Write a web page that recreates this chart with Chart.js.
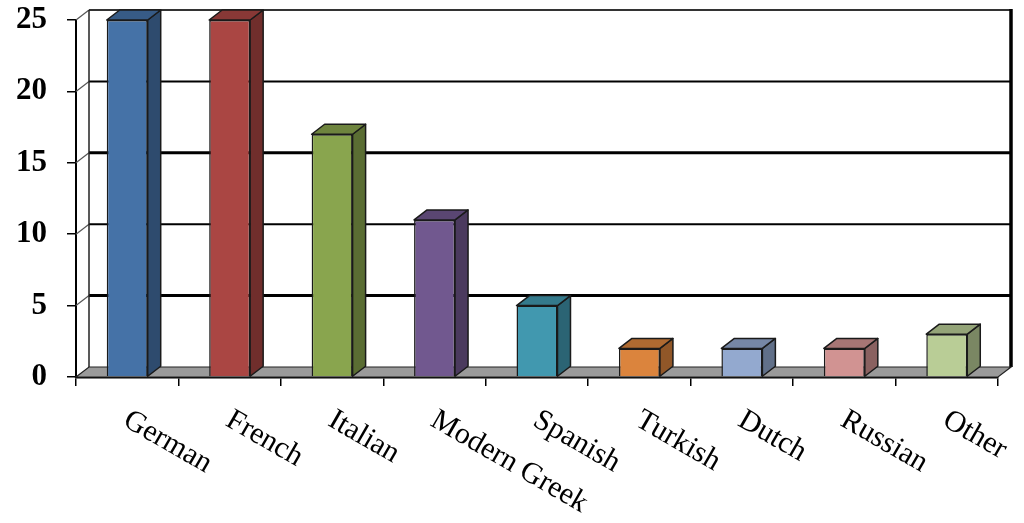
<!DOCTYPE html>
<html>
<head>
<meta charset="utf-8">
<script src="https://cdn.jsdelivr.net/npm/chart.js@4/dist/chart.umd.min.js"></script>
<style>
  html, body { margin: 0; padding: 0; background: #fff; }
  canvas { display: block; }
</style>
</head>
<body>
<canvas id="langChart" width="1024" height="523"></canvas>
<script>
const languages = ["German", "French", "Italian", "Modern Greek", "Spanish", "Turkish", "Dutch", "Russian", "Other"];
const counts = [25, 25, 17, 11, 5, 2, 2, 2, 3];
const yTicks = [0, 5, 10, 15, 20, 25];
const barColors = ["#4572A7", "#AA4643", "#89A54E", "#71588F", "#4198AF", "#DB843D", "#93A9CF", "#D19392", "#B9CD96"];

const DX = 13, DY = -10; // depth of the 3d box

function shade(hex, f) {
  const n = parseInt(hex.slice(1), 16);
  const r = Math.round(((n >> 16) & 255) * f);
  const g = Math.round(((n >> 8) & 255) * f);
  const b = Math.round((n & 255) * f);
  return `rgb(${r},${g},${b})`;
}

function poly(ctx, pts, fill, stroke, lw) {
  ctx.beginPath();
  ctx.moveTo(pts[0][0], pts[0][1]);
  for (let i = 1; i < pts.length; i++) ctx.lineTo(pts[i][0], pts[i][1]);
  ctx.closePath();
  if (fill) { ctx.fillStyle = fill; ctx.fill(); }
  if (stroke) { ctx.strokeStyle = stroke; ctx.lineWidth = lw || 1; ctx.stroke(); }
}

const walls3d = {
  id: "walls3d",
  beforeDatasetsDraw(chart) {
    const ctx = chart.ctx;
    const a = chart.chartArea;
    const y = chart.scales.y;
    const base = y.getPixelForValue(0);
    ctx.save();
    // gridlines on side wall + back wall
    yTicks.forEach(v => {
      if (v === 0) return;
      const py = y.getPixelForValue(v);
      ctx.beginPath();
      ctx.moveTo(a.left, py);
      ctx.lineTo(a.left + DX, py + DY);
      ctx.strokeStyle = "#555";
      ctx.lineWidth = 1.2;
      ctx.stroke();
      ctx.beginPath();
      ctx.moveTo(a.left + DX, py + DY);
      ctx.lineTo(a.right + DX, py + DY);
      ctx.strokeStyle = v === 25 ? "#333" : "#000";
      ctx.lineWidth = (v === 15 || v === 5) ? 3 : 2;
      ctx.stroke();
    });
    // back-left edge
    ctx.beginPath();
    ctx.moveTo(a.left + DX, y.getPixelForValue(25) + DY);
    ctx.lineTo(a.left + DX, base + DY);
    ctx.strokeStyle = "#222";
    ctx.lineWidth = 1.5;
    ctx.stroke();
    // right wall edge
    ctx.beginPath();
    ctx.moveTo(a.right + DX, y.getPixelForValue(25) + DY - 1);
    ctx.lineTo(a.right + DX, base + DY);
    ctx.strokeStyle = "#000";
    ctx.lineWidth = 3.5;
    ctx.stroke();
    // floor
    poly(ctx, [[a.left, base], [a.right, base], [a.right + DX, base + DY], [a.left + DX, base + DY]], "#9a9a9a", "#222", 1.2);
    ctx.restore();
  },
  afterDatasetsDraw(chart) {
    const ctx = chart.ctx;
    const meta = chart.getDatasetMeta(0);
    ctx.save();
    ctx.lineJoin = "round";
    meta.data.forEach((bar, i) => {
      const p = bar.getProps(["x", "y", "base", "width"], true);
      const x1 = p.x - p.width / 2, x2 = p.x + p.width / 2;
      const top = p.y, bot = p.base;
      const c = barColors[i];
      poly(ctx, [[x2, top], [x2 + DX, top + DY], [x2 + DX, bot + DY], [x2, bot]], shade(c, 0.66), "#1a1a1a", 1.5);
      poly(ctx, [[x1, top], [x1 + DX, top + DY], [x2 + DX, top + DY], [x2, top]], shade(c, 0.8), "#1a1a1a", 1.5);
    });
    ctx.restore();
  },
  afterDraw(chart) {
    const ctx = chart.ctx;
    const x = chart.scales.x;
    ctx.save();
    ctx.font = "30px 'Liberation Serif', 'Times New Roman', serif";
    ctx.fillStyle = "#000";
    ctx.textAlign = "left";
    ctx.textBaseline = "top";
    languages.forEach((lab, i) => {
      ctx.save();
      ctx.translate(x.getPixelForValue(i) + 6, 405);
      ctx.rotate(30 * Math.PI / 180);
      ctx.fillText(lab, 0, 0);
      ctx.restore();
    });
    ctx.restore();
  }
};

new Chart(document.getElementById("langChart").getContext("2d"), {
  type: "bar",
  data: {
    labels: languages,
    datasets: [{
      data: counts,
      backgroundColor: barColors,
      borderColor: "#1a1a1a",
      borderWidth: 1.5,
      barPercentage: 0.4,
      categoryPercentage: 1.0
    }]
  },
  options: {
    responsive: false,
    animation: false,
    devicePixelRatio: 1,
    layout: { padding: { top: 20, right: 26, left: 0, bottom: 0 } },
    plugins: {
      legend: { display: false },
      tooltip: { enabled: false }
    },
    scales: {
      x: {
        offset: true,
        grid: { offset: true, drawOnChartArea: false, drawTicks: true, tickLength: 9, color: "#000", lineWidth: 1.5 },
        border: { display: true, color: "#000", width: 2.5 },
        ticks: { display: false },
        afterFit: s => { s.height = 146; s.paddingLeft = 0; s.paddingRight = 0; }
      },
      y: {
        min: 0,
        max: 25,
        afterBuildTicks: s => { s.ticks = yTicks.map(v => ({ value: v })); },
        grid: { drawOnChartArea: false, drawTicks: true, tickLength: 9, color: "#000", lineWidth: 1.5 },
        border: { display: true, color: "#000", width: 2 },
        ticks: {
          padding: 20,
          color: "#000",
          font: { family: "'Liberation Serif', 'Times New Roman', serif", size: 31, weight: "bold" }
        },
        afterFit: s => { s.width = 76; s.paddingTop = 0; s.paddingBottom = 0; }
      }
    }
  },
  plugins: [walls3d]
});
</script>
</body>
</html>
